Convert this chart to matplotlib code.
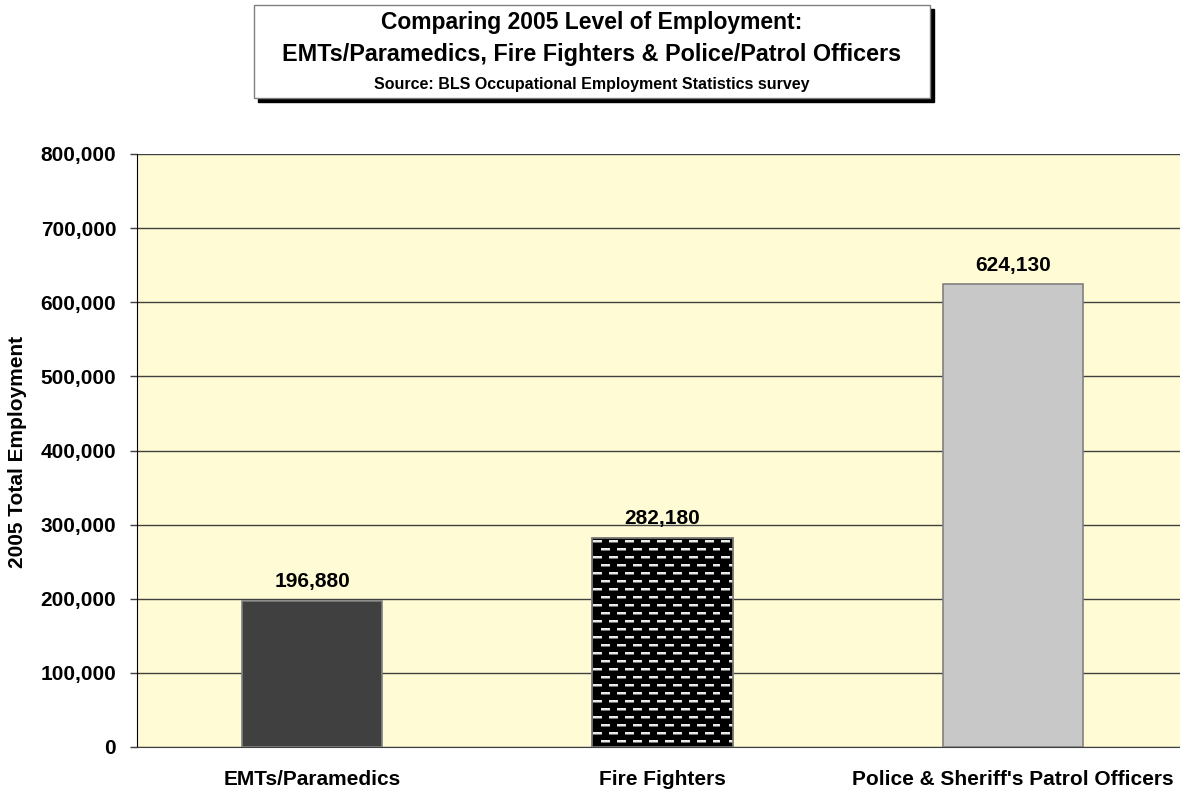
import matplotlib
matplotlib.use("Agg")
import matplotlib.pyplot as plt
import numpy as np
from matplotlib.patches import Rectangle
from matplotlib.ticker import FuncFormatter

categories = ["EMTs/Paramedics", "Fire Fighters", "Police & Sheriff's Patrol Officers"]
values = [196880, 282180, 624130]
colors = ["#404040", "#000000", "#C8C8C8"]
yticks = [0, 100000, 200000, 300000, 400000, 500000, 600000, 700000, 800000]

plt.rcParams['font.family'] = ['Liberation Sans', 'DejaVu Sans']
plt.rcParams['font.weight'] = 'bold'

fig = plt.figure(figsize=(11.8, 7.9), dpi=100)
ax = fig.add_axes([137/1180, 1 - 747/790, 1051/1180, (747-154)/790])
ax.set_facecolor("#FFFCD5")

x = np.arange(len(categories))
bars = ax.bar(x, values, width=0.4, color=colors, edgecolor="#808080", linewidth=1.2, zorder=3)

ax.set_xlim(-0.5, 2.5)
ax.set_ylim(0, 800000)
ax.set_yticks(yticks)
ax.yaxis.set_major_formatter(FuncFormatter(lambda v, p: f"{int(v):,}"))
ax.grid(axis='y', color="#404040", linewidth=1.0, zorder=1)
ax.set_axisbelow(True)

for s in ['top', 'right']:
    ax.spines[s].set_visible(False)
ax.spines['left'].set_color('black')
ax.spines['bottom'].set_color('#404040')
ax.tick_params(axis='y', length=5, width=1, color='#404040', labelsize=15, pad=10)
ax.tick_params(axis='x', length=0, labelsize=15, pad=16.5)
ax.set_xticks(x)
ax.set_xticklabels(categories, fontweight='bold')
for lbl in ax.get_yticklabels():
    lbl.set_fontweight('bold')

ax.set_ylabel("2005 Total Employment", fontsize=15, fontweight='bold')
ax.yaxis.set_label_coords(-(137 - 27) / 1051, 0.5 - 1/593)

# data labels
for xi, v in zip(x, values):
    ax.annotate(f"{v:,}", (xi, v), xytext=(0, 7), textcoords='offset points',
                ha='center', va='bottom', fontsize=15, fontweight='bold')

# dashed pattern on Fire Fighters bar
fb = bars[1]
H, W = 64, 128
pat = np.zeros((H, W, 3))
for r in range(0, H, 8):
    off = 0 if (r // 8) % 2 == 0 else 8
    for c0 in range(off, W, 16):
        pat[r+3:r+5, c0+1:c0+10] = 0.92
        pat[r+5, c0+1:c0+10] = 0.45
bx, by = fb.get_x(), fb.get_y()
bw, bh = fb.get_width(), fb.get_height()
p0 = ax.transData.transform((bx, by))
p1 = ax.transData.transform((bx + bw, by + bh))
npx_w = int(abs(p1[0] - p0[0])) + 1
npx_h = int(abs(p1[1] - p0[1])) + 1
tile = np.tile(pat, (npx_h // H + 2, npx_w // W + 2, 1))[:npx_h, :npx_w]
im = ax.imshow(tile, extent=(bx, bx + bw, by, by + bh), aspect='auto',
               interpolation='nearest', zorder=3.5, origin='upper')
im.set_clip_path(fb)
ax.add_patch(Rectangle((bx, by), bw, bh, fill=False, edgecolor="#808080", linewidth=1.2, zorder=4))

# title box with shadow
bl, bb, bwid, bht = 254/1180, 1 - 98/790, 676/1180, 93/790
shadow = Rectangle((bl + 4/1180, bb - 4/790), bwid, bht, transform=fig.transFigure,
                   facecolor='black', edgecolor='black', zorder=1)
box = Rectangle((bl, bb), bwid, bht, transform=fig.transFigure,
                facecolor='white', edgecolor='#808080', linewidth=1.0, zorder=2)
fig.patches.extend([shadow, box])
cx = (254 + 930) / 2 / 1180
fig.text(cx, 1 - 22/790, "Comparing 2005 Level of Employment:", ha='center', va='center',
         fontsize=16.5, fontweight='bold', zorder=3)
fig.text(cx, 1 - 54/790, "EMTs/Paramedics, Fire Fighters & Police/Patrol Officers", ha='center', va='center',
         fontsize=16.8, fontweight='bold', zorder=3)
fig.text(cx, 1 - 85/790, "Source: BLS Occupational Employment Statistics survey", ha='center', va='center',
         fontsize=11.5, fontweight='bold', zorder=3)

fig.savefig("out.png", dpi=100)
